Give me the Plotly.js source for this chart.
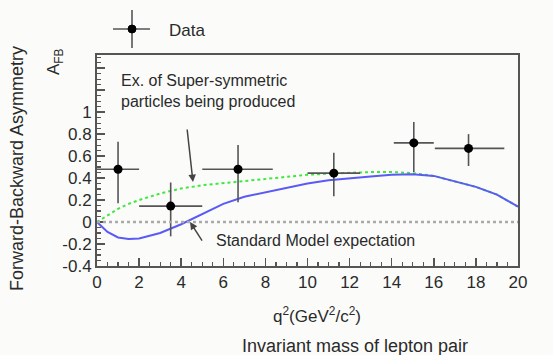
<!DOCTYPE html>
<html>
<head>
<meta charset="utf-8">
<script src="https://cdn.plot.ly/plotly-3.0.1.min.js"></script>
<style>html,body{margin:0;padding:0;background:#fbfcfa;}#chart{width:553px;height:355px;}</style>
</head>
<body>
<div id="chart"></div>
<script>
// ---- data ----
const dataQ2 = [1.0, 3.5, 6.7, 11.25, 15.05, 17.65];
const dataQ2ErrMinus = [1.0, 1.5, 1.7, 1.25, 0.95, 1.6];
const dataQ2ErrPlus = [1.0, 1.5, 1.65, 1.25, 0.95, 1.7];
const dataAfb = [0.48, 0.145, 0.48, 0.445, 0.72, 0.67];
const dataAfbErrPlus = [0.25, 0.215, 0.22, 0.185, 0.19, 0.13];
const dataAfbErrMinus = [0.31, 0.275, 0.30, 0.21, 0.265, 0.16];

const curveQ2 = [0, 0.5, 1, 1.5, 2, 3, 4, 5, 6, 7, 8, 9, 10, 11, 12, 13, 14, 15, 16, 17, 18, 19, 20];
const smAfb = [0, -0.09, -0.14, -0.155, -0.15, -0.1, -0.02, 0.075, 0.165, 0.23, 0.27, 0.315, 0.35, 0.38, 0.4, 0.415, 0.43, 0.435, 0.42, 0.37, 0.32, 0.25, 0.14];
const susyAfb = [0, 0.06, 0.12, 0.165, 0.2, 0.26, 0.305, 0.335, 0.355, 0.375, 0.395, 0.415, 0.43, 0.44, 0.448, 0.455, 0.455, 0.445, 0.42, 0.37, 0.32, 0.25, 0.14];

const xTickVals = [0, 2, 4, 6, 8, 10, 12, 14, 16, 18, 20];
const yTickVals = [-0.4, -0.2, 0, 0.2, 0.4, 0.6, 0.8, 1, 1.2, 1.4];
const yTickText = ["-0.4", "-0.2", "0", "0.2", "0.4", "0.6", "0.8", "1", "", ""];

// ---- layout helpers (pixel -> paper) ----
const L = 97, R = 518, T = 55, B = 266;
const px = x => (x - L) / (R - L);
const py = y => (B - y) / (B - T);
const FONT = "Liberation Sans, Arial, sans-serif";
const TXT = "#2a2a2a";

const traces = [
  {x: curveQ2, y: susyAfb, mode: "lines", line: {color: "#3fe83f", width: 2, dash: "dot"}, hoverinfo: "skip", showlegend: false},
  {x: curveQ2, y: smAfb, mode: "lines", line: {color: "#5a5af5", width: 2}, hoverinfo: "skip", showlegend: false},
  {x: dataQ2, y: dataAfb, mode: "markers", name: "Data", showlegend: false,
   marker: {color: "#000", size: 9},
   error_x: {type: "data", symmetric: false, array: dataQ2ErrPlus, arrayminus: dataQ2ErrMinus, color: "#555", thickness: 1.6, width: 0},
   error_y: {type: "data", symmetric: false, array: dataAfbErrPlus, arrayminus: dataAfbErrMinus, color: "#555", thickness: 1.6, width: 0}}
];

const layout = {
  width: 553, height: 355,
  margin: {l: L, r: 553 - R, t: T, b: 355 - B},
  paper_bgcolor: "#fbfcfa", plot_bgcolor: "#fbfcfa",
  font: {family: FONT, color: TXT, size: 17},
  xaxis: {range: [0, 20], tickvals: xTickVals, ticks: "inside", ticklen: 8, tickwidth: 1.5, tickcolor: "#555",
    minor: {dtick: 0.5, ticks: "inside", ticklen: 4, tickcolor: "#555", tickwidth: 1.2},
    showline: true, linecolor: "#555", linewidth: 2, mirror: true, showgrid: false, zeroline: false,
    tickfont: {size: 17, color: TXT}},
  yaxis: {range: [-0.4, 1.52], tickvals: yTickVals, ticktext: yTickText, ticks: "inside", ticklen: 8, tickwidth: 1.5, tickcolor: "#555",
    minor: {dtick: 0.05, ticks: "inside", ticklen: 4, tickcolor: "#555", tickwidth: 1.2},
    showline: true, linecolor: "#555", linewidth: 2, mirror: true, showgrid: false, zeroline: false,
    tickfont: {size: 17, color: TXT}},
  shapes: [
    {type: "line", xref: "x", yref: "y", x0: 0, x1: 20, y0: 0, y1: 0, line: {color: "#aaa", width: 2.5, dash: "dot"}},
    // legend cross
    {type: "line", xref: "paper", yref: "paper", x0: px(113), x1: px(150), y0: py(29), y1: py(29), line: {color: "#555", width: 1.6}},
    {type: "line", xref: "paper", yref: "paper", x0: px(132), x1: px(132), y0: py(10), y1: py(48), line: {color: "#555", width: 1.6}},
    {type: "circle", xref: "paper", yref: "paper", x0: px(128), x1: px(136), y0: py(25), y1: py(33), fillcolor: "#000", line: {color: "#000", width: 1}}
  ],
  annotations: [
    {xref: "paper", yref: "paper", x: px(167), y: py(31), xanchor: "left", yanchor: "middle", text: "Data", showarrow: false, font: {size: 17}},
    {xref: "paper", yref: "paper", x: px(119), y: py(91), xanchor: "left", yanchor: "middle", align: "left",
     text: "Ex. of Super-symmetric<br>particles being produced", showarrow: false, font: {size: 16}},
    {xref: "x", yref: "y", x: 4.56, y: 0.364, ax: -6, ay: -54, text: "", showarrow: true, arrowhead: 2, arrowsize: 1, arrowwidth: 1.5, arrowcolor: "#444"},
    {xref: "x", yref: "y", x: 4.42, y: 0.0, ax: 13, ay: 20, text: "", showarrow: true, arrowhead: 2, arrowsize: 1, arrowwidth: 1.5, arrowcolor: "#444"},
    {xref: "paper", yref: "paper", x: px(214), y: py(240), xanchor: "left", yanchor: "middle", text: "Standard Model expectation", showarrow: false, font: {size: 16}},
    {xref: "paper", yref: "paper", x: px(317), y: py(315), xanchor: "center", yanchor: "middle", text: "q<sup>2</sup>(GeV<sup>2</sup>/c<sup>2</sup>)", showarrow: false, font: {size: 17}},
    {xref: "paper", yref: "paper", x: px(355), y: py(346), xanchor: "center", yanchor: "middle", text: "Invariant mass of lepton pair", showarrow: false, font: {size: 18}},
    {xref: "paper", yref: "paper", x: px(17), y: py(169), xanchor: "center", yanchor: "middle", textangle: -90, text: "Forward-Backward Asymmetry", showarrow: false, font: {size: 18}},
    {xref: "paper", yref: "paper", x: px(55), y: py(62), xanchor: "center", yanchor: "middle", textangle: -90, text: "A<sub>FB</sub>", showarrow: false, font: {size: 17}}
  ]
};

Plotly.newPlot("chart", traces, layout, {displayModeBar: false, staticPlot: true});
</script>
</body>
</html>
